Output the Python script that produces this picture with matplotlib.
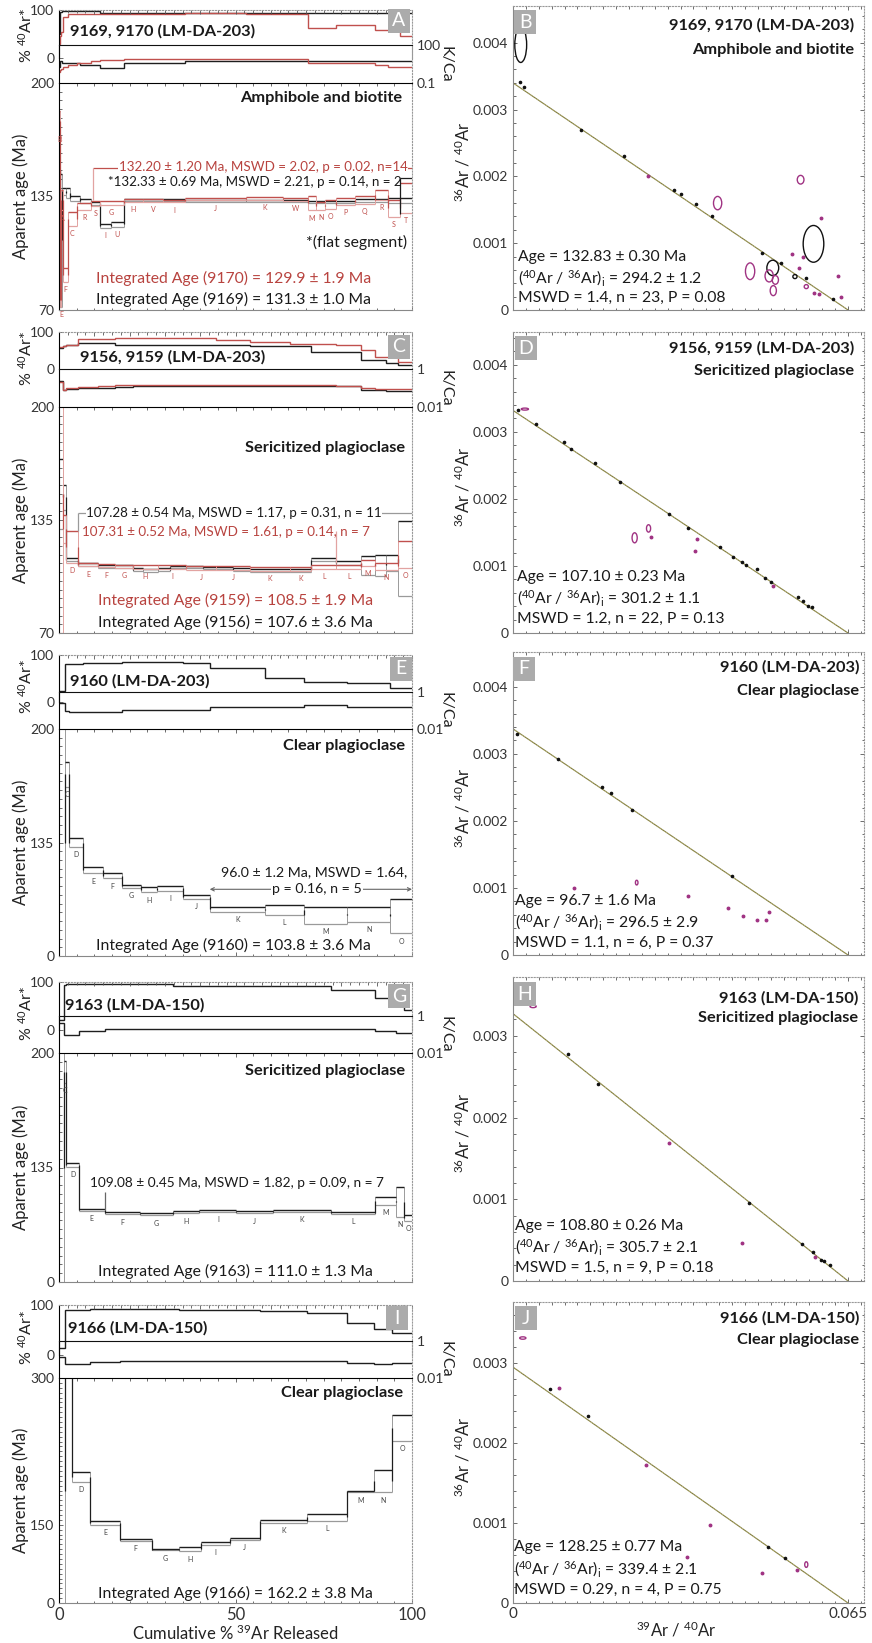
import numpy as np
import matplotlib
matplotlib.use('Agg')
import matplotlib.pyplot as plt
from matplotlib.patches import Rectangle, Ellipse
from matplotlib.ticker import MultipleLocator, FixedLocator, NullLocator, NullFormatter

plt.rcParams['font.family'] = ['Lato', 'DejaVu Sans']
plt.rcParams['mathtext.fontset'] = 'custom'
plt.rcParams['mathtext.rm'] = 'Lato'
plt.rcParams['mathtext.it'] = 'Lato:italic'
plt.rcParams['mathtext.bf'] = 'Lato:bold'

# ======================= DATA =======================
# ---- Panel A: 9169 (black) & 9170 (red) ----
a_blk_edges = [0, 0.4, 0.8, 2.0, 3.0, 6.0, 9.2, 11.5, 14.8, 18.3, 29.5, 35.6, 53.1, 70.5, 83.8, 93.2, 100]
a_blk_age = [150, 110, 138, 137, 134, 132.5, 131, 118, 119, 132.8, 133, 132.3, 132.4, 132, 132.5, 132.8]
a_blk_err = [30, 38, 2, 3, 1.5, 1, 1, 1, 1.5, 0.6, 0.6, 0.5, 0.5, 0.7, 0.8, 1.5]
a_blk_ar40 = [50, 95, 97, 97, 97, 97, 97, 93, 93, 93, 93, 93, 93, 93, 93, 93]
a_blk_kca = [2, 5, 4, 3.7, 3.7, 2.7, 2.7, 1.4, 1.4, 4, 4, 5, 5, 5, 5, 5]
a_blk_step = ['', '', '', '', '', '', '', 'I', 'U', '', '', '', '', '', '', '']
a_red_edges = [0, 0.4, 0.7, 1.0, 2.5, 5.1, 9.2, 11.5, 18.3, 23.8, 29.5, 35.6, 53.1, 63.5, 70.5, 72.9, 75.3, 78.6, 83.8, 89.4, 93.2, 96.5, 100]
a_red_age = [178, 76, 133, 90, 122, 129.5, 131, 131.5, 132.6, 132.6, 132.4, 133.4, 134, 133.4, 131, 129.5, 130.4, 132, 133, 135.9, 128.3, 134]
a_red_err = [6, 4, 6, 4, 4, 2, 1.5, 1.2, 0.8, 0.8, 0.8, 0.6, 0.8, 1, 4, 2.3, 2.7, 2, 2.3, 2.9, 4.8, 8.6]
a_red_ar40 = [30, 45, 55, 85, 91, 91, 91, 91, 91, 91, 91, 94, 92, 92, 62, 62, 62, 69, 69, 59, 59, 45]
a_red_kca = [0.7, 1, 1.2, 2, 2.7, 4, 5, 7, 7.5, 7.5, 7.5, 7.5, 7.5, 7.5, 3.5, 3.5, 3.5, 4, 4, 2.5, 2, 2]
a_red_step = ['B', 'E', 'A', 'F', 'C', 'R', 'S', 'G', 'H', 'V', 'I', 'J', 'K', 'W', 'M', 'N', 'O', 'P', 'Q', 'R', 'S', 'T']

# ---- Panel C: 9156 (black) & 9159 (red) ----
c_blk_edges = [0, 1.1, 2.1, 5.4, 11.0, 15.8, 21.0, 23.8, 28.0, 31.4, 36.1, 40.8, 44.6, 49.3, 54.0, 65.3, 71.5, 78.6, 85.6, 89.4, 92.7, 96.0, 100]
c_blk_age = [150, 148, 112.2, 109.3, 108.4, 108.4, 106.4, 106, 106.4, 108, 108, 107.4, 107.4, 106.4, 106, 106, 112.2, 110.3, 108.8, 108.9, 110.3, 112.7]
c_blk_err = [20, 7, 1, 1, 0.8, 0.8, 0.8, 0.8, 0.8, 0.8, 0.8, 0.8, 0.8, 0.8, 0.8, 0.8, 1, 1.2, 5.3, 6.2, 4.8, 21.5]
c_blk_ar40 = [56, 62, 65, 70, 70, 66, 66, 66, 66, 66, 66, 66, 66, 66, 62, 62, 47, 47, 25, 25, 16, 12]
c_blk_kca = [0.22, 0.08, 0.09, 0.1, 0.1, 0.11, 0.13, 0.13, 0.13, 0.13, 0.13, 0.13, 0.13, 0.13, 0.13, 0.13, 0.13, 0.12, 0.08, 0.08, 0.07, 0.07]
c_blk_step = [''] * 22
c_red_edges = [0, 1.1, 2.1, 5.4, 11.0, 15.8, 21.0, 28.0, 36.1, 44.6, 54.0, 65.3, 71.5, 78.6, 85.6, 89.4, 96.0, 100]
c_red_age = [150, 130, 119.4, 109.3, 108.7, 108.4, 108, 108, 107.4, 107.4, 106.8, 106.8, 108, 108, 110.3, 108.4, 115]
c_red_err = [80, 8, 9.1, 1, 1, 1, 1, 1, 1, 1, 1, 1, 1.2, 1.2, 1.5, 2, 7.7]
c_red_ar40 = [60, 62, 65, 80, 80, 84, 84, 84, 84, 78, 73, 67, 67, 65, 51, 33, 20]
c_red_kca = [0.2, 0.08, 0.1, 0.11, 0.12, 0.14, 0.15, 0.15, 0.15, 0.15, 0.15, 0.15, 0.14, 0.13, 0.1, 0.09, 0.09]
c_red_step = ['', '', 'D', 'E', 'F', 'G', 'H', 'I', 'J', 'J', 'K', 'K', 'L', 'L', 'M', 'N', 'O']

# ---- Panel E: 9160 ----
e_edges = [0, 1.6, 2.8, 6.8, 12.5, 17.9, 23.1, 27.9, 35.1, 42.7, 58.3, 69.4, 81.6, 93.9, 100]
e_age = [135, 174.1, 134.9, 119.2, 116.1, 110, 108, 108.7, 103.8, 96.7, 96.2, 93.3, 93.8, 92.7]
e_err = [70, 7.2, 2.4, 1.9, 1.7, 0.8, 1.6, 1.4, 1, 1.4, 2.9, 4.8, 4.3, 9.8]
e_ar40 = [24, 81, 81, 82, 82, 85, 85, 85, 83, 72, 51, 43, 41, 30]
e_kca = [0.24, 0.1, 0.085, 0.085, 0.085, 0.11, 0.11, 0.11, 0.11, 0.16, 0.16, 0.19, 0.16, 0.16]
e_step = ['B', 'C', 'D', 'E', 'F', 'G', 'H', 'I', 'J', 'K', 'L', 'M', 'N', 'O']

# ---- Panel G: 9163 ----
g_edges = [0, 1.3, 2.1, 5.6, 12.9, 22.9, 32.3, 39.8, 50.2, 60.6, 77.1, 89.4, 95.4, 97.7, 100]
g_age = [135, 189, 136.5, 110.9, 109, 108.4, 109.6, 110.3, 109.6, 110.3, 109.1, 115.8, 115.5, 106.4]
g_err = [70, 6.2, 1, 0.6, 0.6, 0.6, 0.7, 0.6, 0.7, 0.6, 0.6, 2.2, 8.5, 1.5]
g_ar40 = [20, 93, 95, 95, 95, 95, 92, 92, 92, 92, 83, 67, 50, 42]
g_kca = [0.4, 0.1, 0.1, 0.16, 0.19, 0.19, 0.19, 0.19, 0.19, 0.19, 0.19, 0.16, 0.12, 0.12]
g_step = ['B', 'C', 'D', 'E', 'F', 'G', 'H', 'I', 'J', 'K', 'L', 'M', 'N', 'O']

# ---- Panel I: 9166 ----
i_edges = [0, 1.6, 3.8, 8.9, 17.2, 26.3, 34.0, 40.3, 48.5, 56.8, 70.3, 81.6, 89.1, 94.3, 100]
i_age = [185, 340, 199, 151.8, 134.7, 124.5, 125, 131, 135.4, 153.5, 157.8, 184, 194.7, 249.2]
i_err = [120, 20, 5, 1.7, 1, 0.7, 2.2, 1.4, 1.2, 1.7, 3.6, 1, 11.6, 13.3]
i_ar40 = [15, 91, 91, 93, 93, 92, 91, 90, 90, 89, 84, 65, 52, 45]
i_kca = [0.14, 0.058, 0.058, 0.071, 0.087, 0.087, 0.087, 0.087, 0.087, 0.087, 0.087, 0.068, 0.058, 0.068]
i_step = ['B', 'C', 'D', 'E', 'F', 'G', 'H', 'I', 'J', 'K', 'L', 'M', 'N', 'O']

# ---- Isochron B ----
b_ratio, b_xint = 294.2, 0.065
b_blk_x = [0.0013, 0.0021, 0.0132, 0.0216, 0.0313, 0.0326, 0.0356, 0.0387, 0.0484, 0.0520, 0.0568, 0.0620]
b_blk_y = [0.00341, 0.00334, 0.00269, 0.00231, 0.00179, 0.00173, 0.00158, 0.00140, 0.00086, 0.00070, 0.00048, 0.00017]
b_blk_ex = [0.0015, 0.0583, 0.0504, 0.0547]
b_blk_ey = [0.00397, 0.00099, 0.00063, 0.00050]
b_blk_ew = [0.0023, 0.0040, 0.0023, 0.0008]
b_blk_eh = [0.00053, 0.00055, 0.00023, 0.00006]
b_pur_x = [0.0261, 0.0597, 0.0541, 0.0555, 0.0562, 0.0584, 0.0594, 0.0631, 0.0636]
b_pur_y = [0.00200, 0.00137, 0.00084, 0.00063, 0.00079, 0.00025, 0.00024, 0.00051, 0.00019]
b_pur_ex = [0.0397, 0.0558, 0.0460, 0.0497, 0.0509, 0.0505, 0.0569]
b_pur_ey = [0.00160, 0.00195, 0.00058, 0.00051, 0.00045, 0.00029, 0.00035]
b_pur_ew = [0.0016, 0.0013, 0.0018, 0.0016, 0.0012, 0.0012, 0.0008]
b_pur_eh = [0.00020, 0.00013, 0.00025, 0.00018, 0.00013, 0.00015, 0.00006]

# ---- Isochron D ----
d_ratio, d_xint = 301.2, 0.065
d_blk_x = [0.0010, 0.0044, 0.0099, 0.0113, 0.0160, 0.0207, 0.0303, 0.0339, 0.0402, 0.0426, 0.0445, 0.0452, 0.0473, 0.0489, 0.0500, 0.0552, 0.0562, 0.0573, 0.0581]
d_blk_y = [0.00333, 0.00312, 0.00285, 0.00274, 0.00253, 0.00225, 0.00178, 0.00157, 0.00129, 0.00113, 0.00106, 0.00101, 0.00095, 0.00082, 0.00076, 0.00053, 0.00047, 0.00041, 0.00039]
d_pur_x = [0.0268, 0.0354, 0.0357, 0.0504]
d_pur_y = [0.00143, 0.00122, 0.00140, 0.00070]
d_pur_ex = [0.0236, 0.0263, 0.0023]
d_pur_ey = [0.00142, 0.00156, 0.00334]
d_pur_ew = [0.0010, 0.0008, 0.0014]
d_pur_eh = [0.00015, 0.00011, 0.00003]

# ---- Isochron F ----
f_ratio, f_xint = 296.5, 0.065
f_blk_x = [0.0008, 0.0087, 0.0172, 0.0190, 0.0231, 0.0424]
f_blk_y = [0.00330, 0.00293, 0.00250, 0.00241, 0.00216, 0.00118]
f_pur_x = [0.0118, 0.0340, 0.0418, 0.0447, 0.0474, 0.0491, 0.0497]
f_pur_y = [0.00100, 0.00088, 0.00070, 0.00058, 0.00052, 0.00052, 0.00064]
f_pur_ex = [0.0240]
f_pur_ey = [0.00108]
f_pur_ew = [0.0005]
f_pur_eh = [0.00007]

# ---- Isochron H ----
h_ratio, h_xint = 305.7, 0.065
h_blk_x = [0.0107, 0.0165, 0.0458, 0.0560, 0.0583, 0.0597, 0.0604, 0.0616]
h_blk_y = [0.00278, 0.00241, 0.00096, 0.00045, 0.00036, 0.00026, 0.00024, 0.00020]
h_pur_x = [0.0303, 0.0445, 0.0586]
h_pur_y = [0.00169, 0.00047, 0.00029]
h_pur_ex = [0.0039]
h_pur_ey = [0.00336]
h_pur_ew = [0.0012]
h_pur_eh = [0.00003]

# ---- Isochron J ----
j_ratio, j_xint = 339.4, 0.065
j_blk_x = [0.0071, 0.0145, 0.0495, 0.0528]
j_blk_y = [0.00267, 0.00233, 0.00070, 0.00056]
j_pur_x = [0.0090, 0.0258, 0.0382, 0.0338, 0.0484, 0.0551]
j_pur_y = [0.00268, 0.00173, 0.00097, 0.00058, 0.00038, 0.00041]
j_pur_ex = [0.0019, 0.0569]
j_pur_ey = [0.00331, 0.00048]
j_pur_ew = [0.0012, 0.0006]
j_pur_eh = [0.00003, 0.00007]

# ======================= STYLE / LAYOUT =======================
BLK = '#1e1e1e'
BLK_L = '#9a9a9a'
RED = '#c0504d'
RED_L = '#e2a3a1'
RED_T = '#b8433f'
PUR = '#a03383'
LINE = '#77733c'
TICKC = '#333333'
W, H = 872, 1643
fig = plt.figure(figsize=(W / 100, H / 100), dpi=100)


def rect(x0, y0, x1, y1):
    return [x0 / W, 1 - y1 / H, (x1 - x0) / W, (y1 - y0) / H]


def ptxt(x, y, s, **kw):
    kw.setdefault('va', 'center')
    return fig.text(x / W, 1 - y / H, s, **kw)


def spectrum(ax, edges, age, err, color, light, steps, labc):
    e = np.asarray(edges, float)
    a = np.asarray(age, float)
    s = np.asarray(err, float)
    ax.vlines(e[:-1], a - s, a + s, color=light, lw=0.7)
    ax.vlines(e[1:], a - s, a + s, color=light, lw=0.7)
    ax.hlines(a - s, e[:-1], e[1:], color=light, lw=0.9)
    ax.hlines(a + s, e[:-1], e[1:], color=color, lw=1.0)
    ax.vlines(e[1:-1], a[:-1], a[1:], color=color, lw=0.9)
    for i, lab in enumerate(steps):
        if lab:
            ax.annotate(lab, ((e[i] + e[i + 1]) / 2, a[i] - s[i]), xytext=(0, -3),
                        textcoords='offset points', ha='center', va='top',
                        fontsize=5, color=labc)


def style_ticks(ax):
    ax.tick_params(which='both', direction='in', colors='#555555', labelcolor=TICKC,
                   labelsize=10, width=0.6)
    ax.tick_params(which='major', length=3)
    ax.tick_params(which='minor', length=1.8)


def left_row(ar_px, k_px, a_px, klim, kticks, klabels, alim, aticks, alabels, series, bottom=False, arlab_dy=8):
    x0, x1 = 59, 412
    ax_ar = fig.add_axes(rect(x0, ar_px[0], x1, ar_px[1]))
    ax_k = fig.add_axes(rect(x0, k_px[0], x1, k_px[1]))
    ax_a = fig.add_axes(rect(x0, a_px[0], x1, a_px[1]))
    for ax in (ax_ar, ax_k, ax_a):
        ax.set_xlim(0, 100)
        ax.set_facecolor('none')
        style_ticks(ax)
        ax.spines['right'].set_linestyle(':')
        ax.spines['right'].set_color('#999999')
    # %40Ar*
    ax_ar.set_ylim(0, 100)
    ax_ar.spines['bottom'].set_visible(False)
    ax_ar.spines['top'].set_linestyle(':')
    ax_ar.spines['top'].set_color('#999999')
    ax_ar.set_yticks([0, 100])
    ax_ar.set_yticklabels(['0', '100'])
    ax_ar.xaxis.set_ticks_position('top')
    ax_ar.xaxis.set_major_locator(MultipleLocator(10))
    ax_ar.xaxis.set_minor_locator(MultipleLocator(2.5))
    ax_ar.xaxis.set_major_formatter(NullFormatter())
    # K/Ca
    ax_k.set_yscale('log')
    ax_k.set_ylim(*klim)
    ax_k.spines['bottom'].set_visible(False)
    ax_k.spines['top'].set_color('#111111')
    ax_k.yaxis.tick_right()
    ax_k.yaxis.set_major_locator(FixedLocator(kticks))
    ax_k.set_yticklabels(klabels)
    ax_k.yaxis.set_minor_locator(NullLocator())
    ax_k.set_xticks([])
    # Age
    ax_a.set_ylim(*alim)
    ax_a.set_yticks(aticks)
    ax_a.set_yticklabels(alabels)
    ax_a.yaxis.set_minor_locator(MultipleLocator(5))
    ax_a.spines['bottom'].set_color('#888888')
    ax_a.xaxis.set_major_locator(FixedLocator([0, 50, 100]))
    ax_a.xaxis.set_minor_locator(MultipleLocator(5))
    ax_a.tick_params(axis='x', which='both', top=True)
    if bottom:
        ax_a.set_xticklabels(['0', '50', '100'])
        ax_a.tick_params(axis='x', labelsize=12, pad=3)
    else:
        ax_a.xaxis.set_major_formatter(NullFormatter())
    for (edges, age, err, ar40, kca, steps, col, light, labc) in series:
        ax_ar.stairs(ar40, edges, baseline=None, color=col, lw=1.0)
        ax_k.stairs(kca, edges, baseline=None, color=col, lw=1.0)
        spectrum(ax_a, edges, age, err, col, light, steps, labc)
    # axis labels
    ptxt(26, (ar_px[0] + ar_px[1]) / 2 + arlab_dy, r'% $^{40}$Ar*', rotation=90, ha='center', fontsize=11.5, color='#222222')
    ptxt(21, (a_px[0] + a_px[1]) / 2, 'Aparent age (Ma)', rotation=90, ha='center', fontsize=12, color='#222222')
    ptxt(445, (k_px[0] + k_px[1]) / 2, 'K/Ca', rotation=270, ha='center', fontsize=11.5, color='#222222')
    return ax_ar, ax_k, ax_a


def iso_panel(top, bottom, ymax, ymaj, ratio, xint, bx, by, px, py, bell, pell, last=False):
    ax = fig.add_axes(rect(513, top, 864, bottom))
    ax.set_xlim(0, 0.0681)
    ax.set_ylim(0, ymax)
    style_ticks(ax)
    for sp in ('top', 'right'):
        ax.spines[sp].set_linestyle(':')
        ax.spines[sp].set_color('#999999')
    for sp in ('left', 'bottom'):
        ax.spines[sp].set_color('#888888')
    ax.set_yticks(ymaj)
    ax.set_yticklabels(['0'] + ['%.3f' % v for v in ymaj[1:]])
    ax.yaxis.set_minor_locator(MultipleLocator(0.0002))
    ax.xaxis.set_major_locator(FixedLocator([0, 0.065]))
    ax.xaxis.set_minor_locator(MultipleLocator(0.0025))
    ax.tick_params(axis='x', which='both', top=True)
    ax.tick_params(axis='y', which='both', right=True)
    if last:
        ax.set_xticklabels(['0', '0.065'])
        ax.tick_params(axis='x', labelsize=11, pad=3)
    else:
        ax.xaxis.set_major_formatter(NullFormatter())
    ax.plot([0, xint], [1.0 / ratio, 0], color=LINE, lw=0.8, zorder=2)
    ax.plot([0, xint], [1.0 / ratio, 0], color='#d6cf7a', lw=0.4, ls=(0, (2, 2)), zorder=2)
    ax.plot(bx, by, 'o', ms=1.6, color='#111111', zorder=3)
    ax.plot(px, py, 'o', ms=1.8, color=PUR, zorder=3)
    for (ex, ey, ew, eh) in [bell]:
        for x, y, w, h in zip(ex, ey, ew, eh):
            ax.add_patch(Ellipse((x, y), w, h, fill=False, ec='#111111', lw=1.0, zorder=3))
    for (ex, ey, ew, eh) in [pell]:
        for x, y, w, h in zip(ex, ey, ew, eh):
            ax.add_patch(Ellipse((x, y), w, h, fill=False, ec=PUR, lw=1.0, zorder=3))
    ptxt(463, (top + bottom) / 2 + 4, r'$^{36}$Ar / $^{40}$Ar', rotation=90, ha='center', fontsize=12, color='#222222')
    return ax


def letter(cx, cy, s):
    fig.add_artist(Rectangle(((cx - 11) / W, 1 - (cy + 12) / H), 22 / W, 24 / H,
                             transform=fig.transFigure, fc='#ababab', ec='none', zorder=10))
    ptxt(cx, cy, s, ha='center', color='white', fontsize=14, zorder=11)


BOLD = dict(fontsize=11.8, fontweight='bold', color='#1a1a1a')
TXT = 11.3
WB = dict(fc='white', ec='none', pad=0.5)

# ======================= ROW 1 =======================
_, _, axA = left_row((10, 58), (45, 83), (83, 310), (0.1, 100), [0.1, 100], ['0.1', '100'],
                     (70, 200), [70, 135, 200], ['70', '135', '200'],
                     [(a_blk_edges, a_blk_age, a_blk_err, a_blk_ar40, a_blk_kca, a_blk_step, BLK, BLK_L, RED),
                      (a_red_edges, a_red_age, a_red_err, a_red_ar40, a_red_kca, a_red_step, RED, RED_L, RED)],
                     arlab_dy=2)
axA.hlines(151.1, 9.6, 100, color=RED, lw=0.9)
axA.vlines(9.6, 133, 151.1, color=RED_L, lw=0.9)
axA.hlines(145.4, 96.5, 100, color=BLK, lw=0.9)
axA.vlines(96.5, 125, 145.4, color=BLK, lw=0.9)
ptxt(70, 31, '9169, 9170 (LM-DA-203)', ha='left', **BOLD)
ptxt(402, 98, 'Amphibole and biotite', ha='right', **BOLD)
ptxt(263, 167, '132.20 ± 1.20 Ma, MSWD = 2.02, p = 0.02, n=14', ha='center', fontsize=9.6, color=RED_T, bbox=WB)
ptxt(255, 182, '*132.33 ± 0.69 Ma, MSWD = 2.21, p = 0.14, n = 2', ha='center', fontsize=9.6, color='#1a1a1a')
ptxt(407, 242, '*(flat segment)', ha='right', fontsize=TXT, color='#1a1a1a')
ptxt(96, 278, 'Integrated Age (9170) = 129.9 ± 1.9 Ma', ha='left', fontsize=TXT, color=RED_T)
ptxt(96, 299, 'Integrated Age (9169) = 131.3 ± 1.0 Ma', ha='left', fontsize=TXT, color='#1a1a1a')
letter(399, 21, 'A')

iso_panel(6, 310, 0.00455, [0, 0.001, 0.002, 0.003, 0.004], b_ratio, b_xint, b_blk_x, b_blk_y, b_pur_x, b_pur_y,
          (b_blk_ex, b_blk_ey, b_blk_ew, b_blk_eh), (b_pur_ex, b_pur_ey, b_pur_ew, b_pur_eh))
ptxt(854, 25, '9169, 9170 (LM-DA-203)', ha='right', **BOLD)
ptxt(854, 50, 'Amphibole and biotite', ha='right', **BOLD)
ptxt(518, 257, 'Age = 132.83 ± 0.30 Ma', ha='left', fontsize=TXT, color='#1a1a1a')
ptxt(518, 278, r'($^{40}$Ar / $^{36}$Ar)$_{\mathrm{i}}$ = 294.2 ± 1.2', ha='left', fontsize=TXT, color='#1a1a1a')
ptxt(518, 298, 'MSWD = 1.4, n = 23, P = 0.08', ha='left', fontsize=TXT, color='#1a1a1a')
letter(525, 22, 'B')

# ======================= ROW 2 =======================
_, _, axC = left_row((332, 369), (369, 407), (407, 633), (0.01, 1), [0.01, 1], ['0.01', '1'],
                     (70, 200), [70, 135, 200], ['70', '135', '200'],
                     [(c_blk_edges, c_blk_age, c_blk_err, c_blk_ar40, c_blk_kca, c_blk_step, BLK, BLK_L, RED),
                      (c_red_edges, c_red_age, c_red_err, c_red_ar40, c_red_kca, c_red_step, RED, RED_L, RED)])
axC.hlines(139, 5.4, 100, color=BLK_L, lw=0.9)
axC.vlines(5.4, 128.5, 139, color=BLK_L, lw=0.9)
axC.vlines(78.6, 110.3, 128.5, color=RED_L, lw=0.9)
ptxt(80, 357, '9156, 9159 (LM-DA-203)', ha='left', **BOLD)
ptxt(405, 448, 'Sericitized plagioclase', ha='right', **BOLD)
ptxt(234, 513, '107.28 ± 0.54 Ma, MSWD = 1.17, p = 0.31, n = 11', ha='center', fontsize=9.6, color='#1a1a1a', bbox=WB)
ptxt(82, 532, '107.31 ± 0.52 Ma, MSWD = 1.61, p = 0.14, n = 7', ha='left', fontsize=9.6, color=RED_T)
ptxt(98, 600, 'Integrated Age (9159) = 108.5 ± 1.9 Ma', ha='left', fontsize=TXT, color=RED_T)
ptxt(98, 622, 'Integrated Age (9156) = 107.6 ± 3.6 Ma', ha='left', fontsize=TXT, color='#1a1a1a')
letter(399, 347, 'C')

iso_panel(332, 633, 0.00449, [0, 0.001, 0.002, 0.003, 0.004], d_ratio, d_xint, d_blk_x, d_blk_y, d_pur_x, d_pur_y,
          ([], [], [], []), (d_pur_ex, d_pur_ey, d_pur_ew, d_pur_eh))
ptxt(854, 348, '9156, 9159 (LM-DA-203)', ha='right', **BOLD)
ptxt(854, 371, 'Sericitized plagioclase', ha='right', **BOLD)
ptxt(517, 577, 'Age = 107.10 ± 0.23 Ma', ha='left', fontsize=TXT, color='#1a1a1a')
ptxt(517, 598, r'($^{40}$Ar / $^{36}$Ar)$_{\mathrm{i}}$ = 301.2 ± 1.1', ha='left', fontsize=TXT, color='#1a1a1a')
ptxt(517, 619, 'MSWD = 1.2, n = 22, P = 0.13', ha='left', fontsize=TXT, color='#1a1a1a')
letter(526, 348, 'D')

# ======================= ROW 3 =======================
_, _, axE = left_row((655, 702), (692, 729), (729, 956), (0.01, 1), [0.01, 1], ['0.01', '1'],
                     (70, 200), [70, 135, 200], ['0', '135', '200'],
                     [(e_edges, e_age, e_err, e_ar40, e_kca, e_step, BLK, BLK_L, '#444444')])
axE.annotate('', xy=(42.7, 108.2), xytext=(100, 108.2),
             arrowprops=dict(arrowstyle='<->', color='#666666', lw=0.8, shrinkA=0, shrinkB=0,
                             mutation_scale=6))
ptxt(70, 681, '9160 (LM-DA-203)', ha='left', **BOLD)
ptxt(405, 746, 'Clear plagioclase', ha='right', **BOLD)
ptxt(314, 872, '96.0 ± 1.2 Ma, MSWD = 1.64,', ha='center', fontsize=10.2, color='#1a1a1a')
ptxt(317, 889, 'p = 0.16, n = 5', ha='center', fontsize=10.2, color='#1a1a1a', bbox=WB)
ptxt(233, 945, 'Integrated Age (9160) = 103.8 ± 3.6 Ma', ha='center', fontsize=TXT, color='#1a1a1a')
letter(401, 669, 'E')

iso_panel(652, 955, 0.00452, [0, 0.001, 0.002, 0.003, 0.004], f_ratio, f_xint, f_blk_x, f_blk_y, f_pur_x, f_pur_y,
          ([], [], [], []), (f_pur_ex, f_pur_ey, f_pur_ew, f_pur_eh))
ptxt(859, 667, '9160 (LM-DA-203)', ha='right', **BOLD)
ptxt(859, 691, 'Clear plagioclase', ha='right', **BOLD)
ptxt(515, 901, 'Age = 96.7 ± 1.6 Ma', ha='left', fontsize=TXT, color='#1a1a1a')
ptxt(515, 922, r'($^{40}$Ar / $^{36}$Ar)$_{\mathrm{i}}$ = 296.5 ± 2.9', ha='left', fontsize=TXT, color='#1a1a1a')
ptxt(515, 943, 'MSWD = 1.1, n = 6, P = 0.37', ha='left', fontsize=TXT, color='#1a1a1a')
letter(524, 669, 'F')

# ======================= ROW 4 =======================
_, _, axG = left_row((982, 1030), (1016, 1053), (1053, 1282), (0.01, 1), [0.01, 1], ['0.01', '1'],
                     (70, 200), [70, 135, 200], ['0', '135', '200'],
                     [(g_edges, g_age, g_err, g_ar40, g_kca, g_step, BLK, BLK_L, '#444444')])
axG.vlines(12.9, 110.8, 121.2, color='#666666', lw=0.9)
ptxt(65, 1005, '9163 (LM-DA-150)', ha='left', **BOLD)
ptxt(405, 1071, 'Sericitized plagioclase', ha='right', **BOLD)
ptxt(237, 1183, '109.08 ± 0.45 Ma, MSWD = 1.82, p = 0.09, n = 7', ha='center', fontsize=9.8, color='#1a1a1a')
ptxt(235, 1271, 'Integrated Age (9163) = 111.0 ± 1.3 Ma', ha='center', fontsize=TXT, color='#1a1a1a')
letter(399, 996, 'G')

iso_panel(977, 1281, 0.00372, [0, 0.001, 0.002, 0.003], h_ratio, h_xint, h_blk_x, h_blk_y, h_pur_x, h_pur_y,
          ([], [], [], []), (h_pur_ex, h_pur_ey, h_pur_ew, h_pur_eh))
ptxt(858, 998, '9163 (LM-DA-150)', ha='right', **BOLD)
ptxt(858, 1018, 'Sericitized plagioclase', ha='right', **BOLD)
ptxt(515, 1226, 'Age = 108.80 ± 0.26 Ma', ha='left', fontsize=TXT, color='#1a1a1a')
ptxt(515, 1247, r'($^{40}$Ar / $^{36}$Ar)$_{\mathrm{i}}$ = 305.7 ± 2.1', ha='left', fontsize=TXT, color='#1a1a1a')
ptxt(515, 1268, 'MSWD = 1.5, n = 9, P = 0.18', ha='left', fontsize=TXT, color='#1a1a1a')
letter(525, 994, 'H')

# ======================= ROW 5 =======================
_, _, axI = left_row((1305, 1355), (1341, 1378), (1378, 1603), (0.01, 1), [0.01, 1], ['0.01', '1'],
                     (70, 300), [70, 150, 300], ['0', '150', '300'],
                     [(i_edges, i_age, i_err, i_ar40, i_kca, i_step, BLK, BLK_L, '#444444')], bottom=True)
ptxt(68, 1328, '9166 (LM-DA-150)', ha='left', **BOLD)
ptxt(403, 1393, 'Clear plagioclase', ha='right', **BOLD)
ptxt(235, 1593, 'Integrated Age (9166) = 162.2 ± 3.8 Ma', ha='center', fontsize=TXT, color='#1a1a1a')
ptxt(235, 1633, r'Cumulative % $^{39}$Ar Released', ha='center', fontsize=12, color='#222222')
letter(397, 1318, 'I')

iso_panel(1302, 1603, 0.00376, [0, 0.001, 0.002, 0.003], j_ratio, j_xint, j_blk_x, j_blk_y, j_pur_x, j_pur_y,
          ([], [], [], []), (j_pur_ex, j_pur_ey, j_pur_ew, j_pur_eh), last=True)
ptxt(859, 1318, '9166 (LM-DA-150)', ha='right', **BOLD)
ptxt(859, 1340, 'Clear plagioclase', ha='right', **BOLD)
ptxt(514, 1547, 'Age = 128.25 ± 0.77 Ma', ha='left', fontsize=TXT, color='#1a1a1a')
ptxt(514, 1569, r'($^{40}$Ar / $^{36}$Ar)$_{\mathrm{i}}$ = 339.4 ± 2.1', ha='left', fontsize=TXT, color='#1a1a1a')
ptxt(514, 1590, 'MSWD = 0.29, n = 4, P = 0.75', ha='left', fontsize=TXT, color='#1a1a1a')
ptxt(676, 1630, r'$^{39}$Ar / $^{40}$Ar', ha='center', fontsize=12, color='#222222')
letter(526, 1318, 'J')

fig.savefig('out.png', dpi=100)
